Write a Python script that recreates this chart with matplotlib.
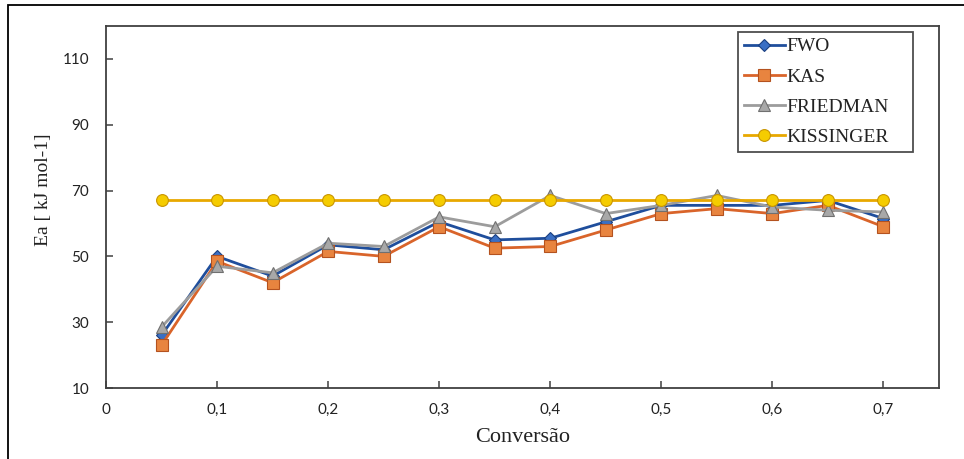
import matplotlib.pyplot as plt
from matplotlib.patches import Rectangle
from matplotlib.ticker import FuncFormatter

# conversion levels and activation energies (kJ/mol) per method
conversao = [0.05, 0.10, 0.15, 0.20, 0.25, 0.30, 0.35, 0.40, 0.45, 0.50, 0.55, 0.60, 0.65, 0.70]
fwo = [26, 50, 44, 53.5, 52, 60.5, 55, 55.5, 60.5, 65.5, 65.5, 65.5, 67, 61.5]
kas = [23, 48.5, 42, 51.5, 50, 59, 52.5, 53, 58, 63, 64.5, 63, 65.5, 59]
friedman = [28.5, 47, 45, 54, 53, 62, 59, 68.5, 63, 65.5, 68.5, 65, 64, 63.5]
kissinger = [67] * len(conversao)

x_ticks = [0, 0.1, 0.2, 0.3, 0.4, 0.5, 0.6, 0.7]
y_ticks = [10, 30, 50, 70, 90, 110]

plt.rcParams["font.family"] = ["Liberation Serif", "DejaVu Serif"]

fig = plt.figure(figsize=(9.64, 4.59), dpi=100)
fig.patch.set_facecolor("white")

# outer frame around the figure
fig.patches.append(Rectangle((8 / 964, -0.1), 1.2, 1 - 5 / 459 + 0.1,
                             transform=fig.transFigure, fill=False,
                             edgecolor="black", linewidth=1.3))

ax = fig.add_axes([106 / 964, 1 - 388 / 459, (939 - 106) / 964, (388 - 26) / 459])

series = [
    ("FWO", fwo, "D", "#1F4E9C", "#3A6FC4", "#1A3F80", 6.5),
    ("KAS", kas, "s", "#D9642A", "#E8843F", "#B4521F", 8),
    ("FRIEDMAN", friedman, "^", "#9C9C9C", "#A8A8A8", "#707070", 8.5),
    ("KISSINGER", kissinger, "o", "#E8A800", "#F5CC00", "#C99500", 8.5),
]
for label, vals, mk, lc, fc, ec, ms in series:
    ax.plot(conversao, vals, color=lc, linewidth=2.0, marker=mk,
            markersize=ms, markerfacecolor=fc, markeredgecolor=ec,
            markeredgewidth=0.8, label=label)

ax.set_xlim(0, 0.75)
ax.set_ylim(10, 120)
ax.set_xticks(x_ticks)
ax.set_yticks(y_ticks)
ax.xaxis.set_major_formatter(FuncFormatter(lambda v, p: f"{v:g}".replace(".", ",")))
ax.tick_params(direction="in", length=5, width=1.1, color="#404040",
               labelsize=11, labelcolor="#222222")
ax.tick_params(axis="x", pad=11)
ax.tick_params(axis="y", pad=12)
for lbl in ax.get_xticklabels() + ax.get_yticklabels():
    lbl.set_family(["Lato", "DejaVu Sans"])
for spine in ax.spines.values():
    spine.set_color("#404040")
    spine.set_linewidth(1.3)

ax.set_xlabel("Conversão", fontsize=16, color="#222222", labelpad=8)
ax.set_ylabel("Ea [ kJ mol-1]", fontsize=14, color="#222222")
ax.yaxis.set_label_coords(-0.065, 0.547)

leg = ax.legend(loc="upper left", bbox_to_anchor=(0.7587, 0.652, 0.2101, 0.3314),
                mode="expand", fontsize=14, frameon=True, fancybox=False,
                handlelength=2.1, handletextpad=0.1, labelspacing=0.65,
                borderpad=0.3, borderaxespad=0)
leg.get_frame().set_edgecolor("#222222")
leg.get_frame().set_linewidth(1.3)
for t in leg.get_texts():
    t.set_color("#222222")

fig.savefig("out.png", dpi=100)
